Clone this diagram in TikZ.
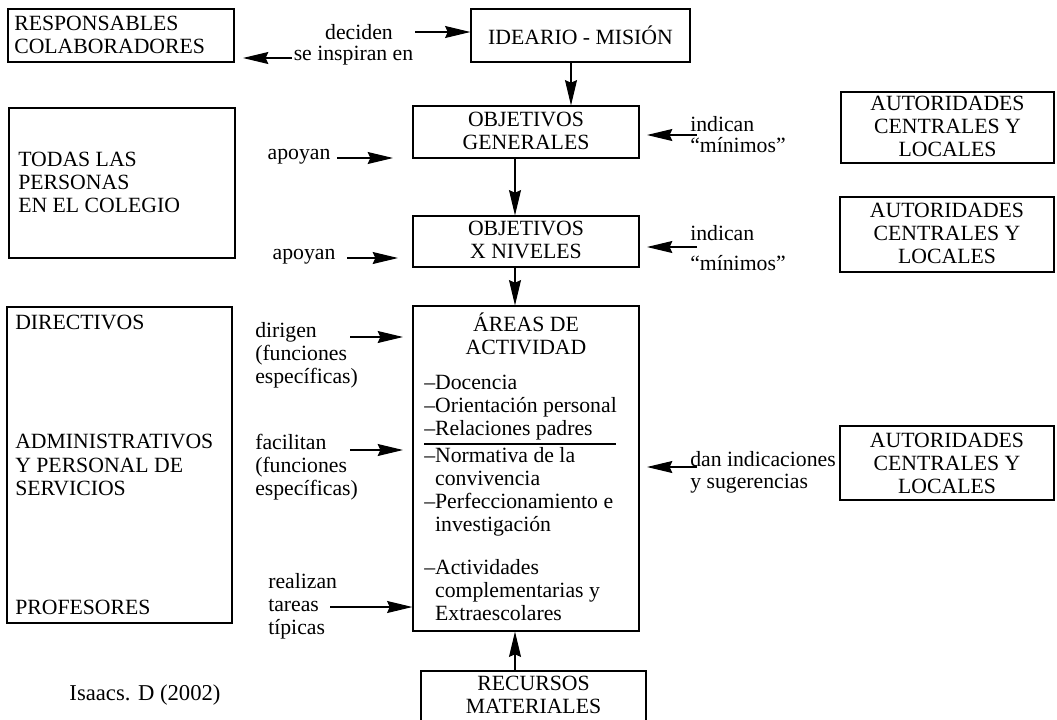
\documentclass[tikz,border=0pt]{standalone}
\usepackage{fontspec}
\setmainfont{Liberation Serif}
\usetikzlibrary{arrows.meta,fit}
\newcommand\fsz{\fontsize{16.3}{17.3}\selectfont}
\begin{document}
\begin{tikzpicture}[x=0.75pt,y=-0.75pt,
  every node/.style={font=\fsz, inner sep=0pt},
  box/.style={draw, line width=0.9pt, rectangle},
  lbl/.style={align=left, anchor=west},
  ctr/.style={align=center},
  arr/.style={line width=0.8pt, -{Stealth[length=19pt,width=9pt,inset=2pt]}}]
\path[use as bounding box] (0,0) rectangle (1057,719);
\clip (0,0) rectangle (1057,719);

% boxes
\node[box, fit={(8,9)(234,62)}] (resp) {};
\node[box, fit={(471,9)(690,62)}] (idea) {};
\node[box, fit={(413,106)(639,158)}] (objgen) {};
\node[box, fit={(413,216)(639,267)}] (objx) {};
\node[box, fit={(413,306)(639,631)}] (areas) {};
\node[box, fit={(421,671)(646,735)}] (rec) {};
\node[box, fit={(841,92)(1054,163)}] (aut1) {};
\node[box, fit={(840,197)(1054,272)}] (aut2) {};
\node[box, fit={(840,426)(1054,500)}] (aut3) {};
\node[box, fit={(9,108)(235,258)}] (todas) {};
\node[box, fit={(7,307)(232,623)}] (dir) {};

% texts in boxes
\node[ctr] (ideatxt) at (580.5,35) {IDEARIO - MISIÓN};
\node[ctr] (objgentxt) at (526,131) {OBJETIVOS\\GENERALES};
\node[ctr] (objxtxt) at (526,240) {OBJETIVOS\\X NIVELES};
\node[ctr] (aut1txt) at (947.5,126) {AUTORIDADES\\CENTRALES Y\\LOCALES};
\node[ctr] (aut2txt) at (947,233) {AUTORIDADES\\CENTRALES Y\\LOCALES};
\node[ctr] (aut3txt) at (947,463) {AUTORIDADES\\CENTRALES Y\\LOCALES};
\node[lbl] (resptxt) at (14,35) {RESPONSABLES\\COLABORADORES};
\node[lbl] (todastxt) at (18,182) {TODAS LAS\\PERSONAS\\EN EL COLEGIO};
\node[lbl] (dirtxt) at (15,322) {DIRECTIVOS};
\node[lbl] (admtxt) at (15,465) {ADMINISTRATIVOS\\Y PERSONAL DE\\SERVICIOS};
\node[lbl] (proftxt) at (15,607) {PROFESORES};
\node[ctr] (rectxt) at (533.5,695) {RECURSOS\\MATERIALES};
\node[ctr] (areastitle) at (526,334) {ÁREAS DE\\ACTIVIDAD};
\node[lbl] (g1) at (424,408) {–Docencia\\–Orientación personal\\–Relaciones padres};
\node[lbl] (g2) at (424,492) {–Normativa de la\\\phantom{–}convivencia\\–Perfeccionamiento e\\\phantom{–}investigación};
\node[lbl] (g3) at (424,590) {–Actividades\\\phantom{–}complementarias y\\\phantom{–}Extraescolares};
\coordinate (ulA) at (424,444);
\coordinate (ulB) at (616,444);
\draw[line width=0.9pt] (ulA) -- (ulB);

% labels
\node[ctr] (deciden) at (359,32) {deciden};
\node[ctr] (inspiran) at (353.5,56) {se inspiran en};
\node[lbl] (ind1) at (690,135) {indican\\[-1.5pt]“mínimos”};
\node[lbl] (ind2) at (690,248) {indican\\[5.25pt]“mínimos”};
\node[ctr] (apo1) at (299,157) {apoyan};
\node[ctr] (apo2) at (304,257) {apoyan};
\node[lbl] (dirigen) at (255,355) {dirigen\\(funciones\\específicas)};
\node[lbl] (facil) at (255,467) {facilitan\\(funciones\\específicas)};
\node[lbl] (realiz) at (268,606) {realizan\\tareas\\típicas};
\node[lbl] (dan) at (690,472.5) {dan indicaciones\\[-1pt]y sugerencias};
\node[ctr, font=\fontsize{17}{19}\selectfont] (isaacs) at (145,695) {Isaacs. D (2002)};

% arrow helper coordinates
\coordinate (cA) at (571,0);
\coordinate (cB) at (515,0);
\coordinate (dT) at (415,32);
\coordinate (iT) at (292,58);
\coordinate (iH) at (243,58);
\coordinate (n1T) at (697,135);
\coordinate (n1H) at (647,135);
\coordinate (n2T) at (697,247);
\coordinate (n2H) at (647,247);
\coordinate (a1T) at (337,158);
\coordinate (a1H) at (393,158);
\coordinate (a2T) at (347,258);
\coordinate (a2H) at (398,258);
\coordinate (drT) at (350,337);
\coordinate (drH) at (403,337);
\coordinate (fcT) at (350,450);
\coordinate (fcH) at (403,450);
\coordinate (rzT) at (330,607);
\coordinate (dnT) at (697,467);
\coordinate (dnH) at (647,467);

% connectors
\draw[arr] (dT) -- (dT -| idea.west);
\draw[arr] (iT) -- (iH);
\draw[arr] (idea.south -| cA) -- (objgen.north -| cA);
\draw[arr] (objgen.south -| cB) -- (objx.north -| cB);
\draw[arr] (objx.south -| cB) -- (areas.north -| cB);
\draw[arr] (rec.north -| cB) -- (areas.south -| cB);
\draw[arr] (n1T) -- (n1H);
\draw[arr] (n2T) -- (n2H);
\draw[arr] (a1T) -- (a1H);
\draw[arr] (a2T) -- (a2H);
\draw[arr] (drT) -- (drH);
\draw[arr] (fcT) -- (fcH);
\draw[arr] (rzT) -- (rzT -| areas.west);
\draw[arr] (dnT) -- (dnH);
\end{tikzpicture}
\end{document}
